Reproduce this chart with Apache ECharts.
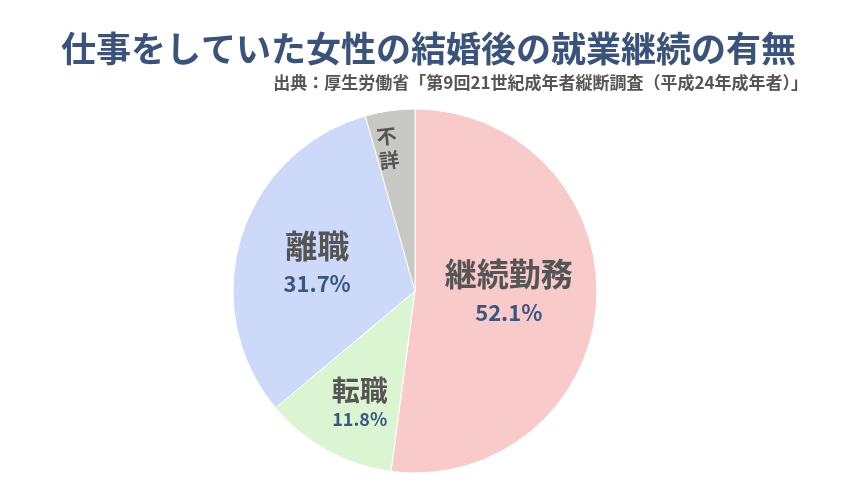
<!DOCTYPE html>
<html><head><meta charset="utf-8">
<script src="https://cdn.jsdelivr.net/npm/echarts@6/dist/echarts.min.js"></script>
<style>html,body{margin:0;padding:0;background:#fff}#c{width:857px;height:494px}</style>
</head><body><div id="c"></div>
<script>
const categories = ['継続勤務', '転職', '離職', '不詳'];
const values = [52.1, 11.8, 31.7, 4.4];
const titleText = '仕事をしていた女性の結婚後の就業継続の有無';
const sourceText = '出典：厚生労働省「第9回21世紀成年者縦断調査（平成24年成年者）」';

const colors = ['#f8caca', '#dbf5d3', '#cdd9f9', '#c8c9c4'];
const labelStyles = [
  {name: 32, nameLH: 46, val: 22, valLH: 30, dx: 0, dy: -8},
  {name: 28, nameLH: 32, val: 18, valLH: 26, dx: -10, dy: 30},
  {name: 32, nameLH: 46, val: 22, valLH: 30, dx: -8, dy: -3},
  {name: 20, nameLH: 24, val: 0, valLH: 0, dx: -8, dy: -51}
];
const font = '"Noto Sans CJK JP", "Noto Sans", sans-serif';

const data = categories.map((c, i) => ({
  name: c, value: values[i],
  itemStyle: {color: colors[i]},
  label: i === 3 ? {
    formatter: '{n|不}\n{n|詳}',
    rotate: 7,
    rich: {n: {fontSize: labelStyles[i].name, fontWeight: 'bold', color: '#555', fontFamily: font, lineHeight: labelStyles[i].nameLH}}
  } : {
    formatter: p => '{n|' + p.name + '}\n{v|' + p.value.toFixed(1) + '%}',
    rich: {
      n: {fontSize: labelStyles[i].name, fontWeight: 'bold', color: '#555', fontFamily: font, lineHeight: labelStyles[i].nameLH},
      v: {fontSize: labelStyles[i].val, fontWeight: 'bold', color: '#3b5581', fontFamily: font, lineHeight: labelStyles[i].valLH}
    }
  }
}));

const chart = echarts.init(document.getElementById('c'), null, {renderer: 'canvas'});
chart.setOption({
  backgroundColor: '#fff',
  animation: false,
  title: [{
    text: titleText, left: 'center', top: 26,
    textStyle: {fontSize: 35, fontWeight: 'bold', color: '#3b5279', fontFamily: font}
  }, {
    text: sourceText, right: 44, top: 69,
    textStyle: {fontSize: 17, fontWeight: 'bold', color: '#555', fontFamily: font}
  }],
  series: [{
    type: 'pie',
    center: [415, 291],
    radius: [0, 182],
    startAngle: 90,
    clockwise: true,
    label: {show: true, position: 'inside', align: 'center'},
    labelLine: {show: false},
    itemStyle: {borderColor: '#fff', borderWidth: 1},
    emphasis: {disabled: true},
    labelLayout: p => ({dx: labelStyles[p.dataIndex].dx, dy: labelStyles[p.dataIndex].dy}),
    data: data
  }]
});
</script></body></html>
